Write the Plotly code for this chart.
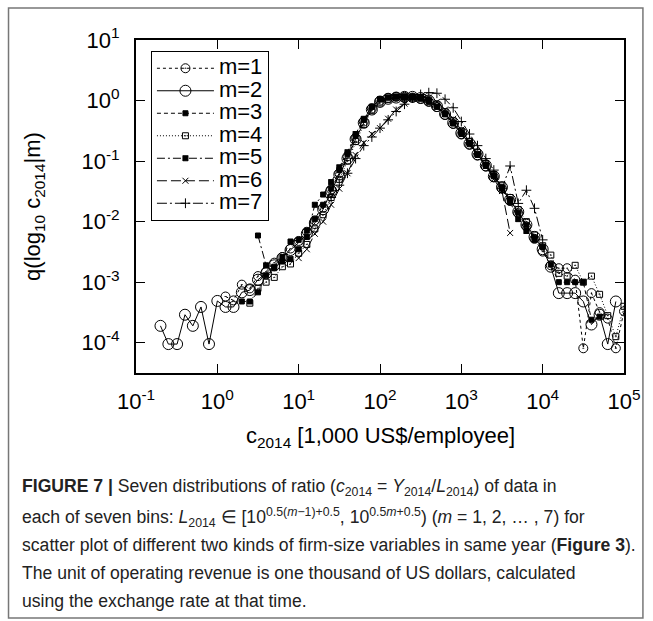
import plotly.graph_objects as go

# shared bin centres of c_2014 [1,000 US$/employee]
c_bins = [0.2, 0.25, 0.32, 0.4, 0.5, 0.63, 0.79, 1.0, 1.26, 1.58,
          2.0, 2.51, 3.16, 3.98, 5.01, 6.31, 7.94, 10, 12.6, 15.8,
          20, 25.1, 31.6, 39.8, 50.1, 63.1, 79.4, 100, 126, 158,
          200, 251, 316, 398, 501, 631, 794, 1000, 1260, 1580,
          2000, 2510, 3160, 3980, 5010, 6310, 7940, 10000, 12600, 15800,
          20000, 25100, 31600, 39800, 50100, 63100, 79400, 100000]

N = None
q_m1 = [N, N, N, N, N, N, N, N, 5.8e-4, 5.0e-4,
        9.1e-4, 7.9e-4, 1.26e-3, 1.5e-3, 2.1e-3, 2.6e-3, 3.6e-3, 4.8e-3, 6.8e-3, 1.05e-2,
        1.7e-2, 3.4e-2, 6.3e-2, 0.12, 0.24, 0.45, 0.74, 1.0, 1.1, 1.15,
        1.15, 1.12, 1.07, 0.95, 0.78, 0.58, 0.41, 0.275, 0.186, 0.123,
        0.081, 0.054, 0.035, 0.022, 0.0138, 0.0083, 0.0052, 0.0032, 1.9e-3, 1.7e-3,
        1.7e-3, 1.1e-3, 8.1e-5, 6.6e-4, 3.2e-4, 2.5e-4, 8.1e-5, 3.3e-4]
q_m2 = [1.9e-4, 9.5e-5, 9.5e-5, 2.9e-4, 1.9e-4, 3.9e-4, 9.5e-5, 4.9e-4, 3.9e-4, 3.9e-4,
        6.8e-4, 7.4e-4, 1.1e-3, 1.4e-3, 1.9e-3, 2.5e-3, 3.4e-3, 4.5e-3, 6.3e-3, 9.5e-3,
        1.6e-2, 3.2e-2, 6.0e-2, 0.11, 0.23, 0.43, 0.71, 0.95, 1.07, 1.12,
        1.15, 1.15, 1.10, 1.0, 0.81, 0.60, 0.43, 0.29, 0.195, 0.13,
        0.085, 0.056, 0.037, 0.023, 0.0145, 0.0089, 0.0056, 0.0035, 1.8e-3, 6.6e-4,
        6.6e-4, 6.6e-4, 4.8e-4, 2.0e-4, 2.9e-4, 9.5e-5, 4.8e-4, N]
q_m3 = [N, N, N, N, N, N, N, N, N, N,
        4.8e-4, 4.8e-4, 6.8e-4, 1.3e-3, 1.7e-3, 2.6e-3, 4.7e-3, 5.0e-3, 7.1e-3, 1.1e-2,
        1.9e-2, 3.5e-2, 7.1e-2, 0.13, 0.26, 0.48, 0.79, 1.05, 1.12, 1.15,
        1.12, 1.12, 1.07, 0.95, 0.79, 0.59, 0.42, 0.28, 0.19, 0.126,
        0.087, 0.058, 0.036, 0.023, 0.014, 0.0087, 0.0054, 0.0038, 1.95e-3, 1.0e-3,
        1.0e-3, 1.0e-3, 1.0e-3, 2.4e-4, 2.7e-4, N, N, N]
q_m4 = [N, N, N, N, N, N, N, N, N, N,
        N, 4.5e-4, 7.9e-4, 1.0e-3, 1.2e-3, 1.8e-3, 2.0e-3, 3.0e-3, 4.2e-3, 7.6e-3,
        1.3e-2, 2.5e-2, 5.0e-2, 0.10, 0.21, 0.40, 0.68, 0.91, 1.05, 1.12,
        1.15, 1.15, 1.12, 1.02, 0.85, 0.65, 0.46, 0.31, 0.21, 0.138,
        0.091, 0.060, 0.040, 0.025, 0.0158, 0.010, 0.0060, 0.0040, 2.8e-3, 1.4e-3,
        1.26e-3, 1.9e-3, 1.0e-3, 1.26e-3, 6.3e-4, 2.8e-4, 1.26e-4, 4.0e-4]
q_m5 = [N, N, N, N, N, N, N, N, N, N,
        N, N, 5.9e-3, 1.9e-3, 1.8e-3, 2.2e-3, 2.4e-3, 3.5e-3, 5.6e-3, 1.9e-2,
        2.8e-2, 4.5e-2, 7.9e-2, 0.14, 0.28, 0.50, 0.79, 1.05, 1.12, 1.17,
        1.17, 1.15, 1.10, 1.0, 0.79, 0.60, 0.42, 0.30, 0.20, 0.13,
        0.083, 0.056, 0.035, 0.021, 0.011, 0.007, 0.005, N, N, N,
        N, N, N, N, N, N, N, N]
q_m6 = [N, N, N, N, N, N, N, N, N, N,
        N, N, N, N, N, N, N, 2.5e-3, 3.5e-3, 6.3e-3,
        0.010, 0.019, 0.035, 0.063, 0.126, 0.20, 0.28, 0.35, 0.50, 0.71,
        0.89, 1.07, 1.15, 1.12, 0.95, 0.71, 0.50, 0.33, 0.21, 0.13,
        0.083, 0.050, 0.032, 0.0065, N, N, N, N, N, N,
        N, N, N, N, N, N, N, N]
q_m7 = [N, N, N, N, N, N, N, N, N, N,
        N, N, N, N, N, N, N, N, N, N,
        N, 0.025, 0.040, 0.063, 0.11, 0.18, 0.25, 0.35, 0.48, 0.66,
        0.87, 1.10, 1.26, 1.35, 1.32, 1.05, 0.76, 0.45, 0.28, 0.18,
        0.11, 0.071, 0.035, 0.083, 0.020, 0.033, 0.0166, 0.005, N, N,
        N, N, N, N, N, N, N, N]

series_names = ["m=1", "m=2", "m=3", "m=4", "m=5", "m=6", "m=7"]
series_vals = [q_m1, q_m2, q_m3, q_m4, q_m5, q_m6, q_m7]

x_tickvals = [0.1, 1, 10, 100, 1000, 10000, 100000]
x_ticktext = ["10<sup>-1</sup>", "10<sup>0</sup>", "10<sup>1</sup>", "10<sup>2</sup>",
              "10<sup>3</sup>", "10<sup>4</sup>", "10<sup>5</sup>"]
y_tickvals = [1e-4, 1e-3, 1e-2, 1e-1, 1, 10]
y_ticktext = ["10<sup>-4</sup>", "10<sup>-3</sup>", "10<sup>-2</sup>", "10<sup>-1</sup>",
              "10<sup>0</sup>", "10<sup>1</sup>"]

styles = [
    dict(symbol="circle-open-dot", size=9, dash="dot"),
    dict(symbol="circle-open", size=11, dash="solid"),
    dict(symbol="square", size=5, dash="4px,3px"),
    dict(symbol="square-open-dot", size=6, dash="1px,2px"),
    dict(symbol="square-x", size=5, dash="8px,3px,2px,3px"),
    dict(symbol="x-thin-open", size=6, dash="10px,4px"),
    dict(symbol="cross-thin-open", size=7, dash="10px,3px,2px,3px"),
]

FONT = "Liberation Sans, Arial, sans-serif"
fig = go.Figure()
for name, vals, st in zip(series_names, series_vals, styles):
    fig.add_trace(go.Scatter(
        x=c_bins, y=vals, mode="lines+markers",
        name="<span style='font-size:22px'>" + name + "</span>",
        connectgaps=False,
        line=dict(color="black", width=1, dash=st["dash"]),
        marker=dict(symbol=st["symbol"], size=st["size"], color="black",
                    line=dict(color="black", width=1)),
    ))

axis_common = dict(
    type="log", showgrid=False, zeroline=False, showline=True, linewidth=2,
    linecolor="black", mirror="ticks", ticks="inside", ticklen=9, tickwidth=1,
    tickcolor="black", tickfont=dict(family=FONT, size=22, color="black"),
)
fig.update_xaxes(range=[-1, 5], tickvals=x_tickvals, ticktext=x_ticktext,
                 ticklabelstandoff=8, **axis_common)
fig.update_yaxes(range=[-4.5, 1], tickvals=y_tickvals, ticktext=y_ticktext,
                 ticklabelstandoff=10, **axis_common)

W, H = 653, 621
L, R, T, B = 136, 27, 40, 248
pw, ph = W - L - R, H - T - B


def px(xp):
    return (xp - L) / pw


def py(yp):
    return (H - B - yp) / ph


annotations = [
    dict(text="c<sub>2014</sub> [1,000 US$/employee]", x=px(381), y=py(437),
         xanchor="center", yanchor="middle", font=dict(family=FONT, size=22, color="black")),
    dict(text="q(log<sub>10</sub> c<sub>2014</sub>|m)", x=px(33), y=0.5, textangle=-90,
         xanchor="center", yanchor="middle", font=dict(family=FONT, size=22, color="black")),
]
caption = [
    "<b>FIGURE 7 |</b> Seven distributions of ratio (<i>c</i><sub>2014</sub> = <i>Y</i><sub>2014</sub>/<i>L</i><sub>2014</sub>) of data in",
    "each of seven bins: <i>L</i><sub>2014</sub> ∈ [10<sup>0.5(<i>m</i>−1)+0.5</sup>, 10<sup>0.5<i>m</i>+0.5</sup>) (<i>m</i> = 1, 2, … , 7) for",
    "scatter plot of different two kinds of firm-size variables in same year (<b>Figure 3</b>).",
    "The unit of operating revenue is one thousand of US dollars, calculated",
    "using the exchange rate at that time.",
]
cap_y = [488, 517, 545, 573, 601]
for line, yy in zip(caption, cap_y):
    annotations.append(dict(text=line, x=px(20), y=py(yy), xanchor="left", yanchor="middle",
                            font=dict(family=FONT, size=17.6, color="#222")))
for a in annotations:
    a.update(xref="paper", yref="paper", showarrow=False)

fig.update_layout(
    width=W, height=H, margin=dict(l=L, r=R, t=T, b=B),
    paper_bgcolor="white", plot_bgcolor="white",
    annotations=annotations,
    shapes=[dict(type="rect", xref="paper", yref="paper", x0=px(8), x1=px(645),
                 y0=py(618), y1=py(8), line=dict(color="#777", width=1.5))],
    legend=dict(x=px(151), y=py(51), xanchor="left", yanchor="top",
                bordercolor="black", borderwidth=1, bgcolor="white",
                font=dict(family=FONT, size=15, color="black"),
                tracegroupgap=0, itemwidth=57),
    showlegend=True,
)

fig.write_html("out.html")
